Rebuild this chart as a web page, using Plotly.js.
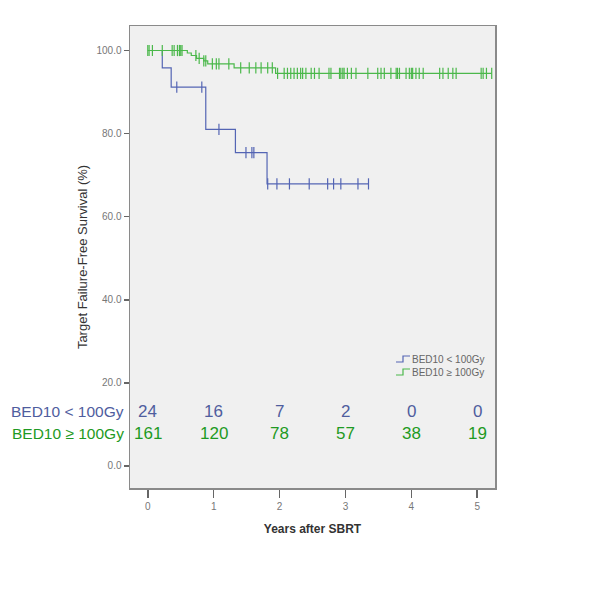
<!DOCTYPE html>
<html>
<head>
<meta charset="utf-8">
<script src="https://cdn.plot.ly/plotly-3.0.1.min.js"></script>
<style>
  html, body { margin: 0; padding: 0; background: #fff; }
  #chart { width: 600px; height: 600px; }
</style>
</head>
<body>
<div id="chart"></div>
<script>
// BED10 < 100Gy
const lowEventTimes = [0.22, 0.355, 0.88, 1.33, 1.81];
const lowEventSurv = [95.8, 91.2, 81.0, 75.4, 67.9];
const lowCensorTimes = [0.44, 0.82, 1.08, 1.49, 1.58, 1.61, 1.82, 1.96, 2.15, 2.45, 2.73, 2.82, 2.93, 3.19, 3.35];
const lowEndTime = 3.35;

// BED10 >= 100Gy
const highEventTimes = [0.6, 0.66, 0.74, 0.85, 0.91, 1.31, 1.94];
const highEventSurv = [99.4, 98.8, 98.1, 97.5, 96.8, 95.8, 94.5];
const highCensorTimes = [0.0, 0.02, 0.07, 0.22, 0.37, 0.40, 0.45, 0.48, 0.50, 0.52, 0.73, 0.78, 0.85, 0.88,
  0.98, 1.04, 1.08, 1.23, 1.41, 1.54, 1.64, 1.72, 1.82, 1.89, 1.97, 2.07, 2.12, 2.17, 2.22, 2.27, 2.32, 2.35,
  2.40, 2.48, 2.53, 2.60, 2.75, 2.78, 2.91, 2.93, 2.96, 2.98, 3.03, 3.09, 3.16, 3.34, 3.49, 3.54, 3.59, 3.69,
  3.77, 3.79, 3.82, 3.92, 3.97, 4.00, 4.02, 4.07, 4.12, 4.18, 4.43, 4.48, 4.56, 4.63, 4.68, 5.06, 5.09, 5.14, 5.22];
const highEndTime = 5.22;

// numbers at risk
const riskTimes = [0, 1, 2, 3, 4, 5];
const lowAtRisk = [24, 16, 7, 2, 0, 0];
const highAtRisk = [161, 120, 78, 57, 38, 19];
const lowLabel = 'BED10 < 100Gy';
const highLabel = 'BED10 \u2265 100Gy';

const blueLine = '#5465b4';
const greenLine = '#4bb84b';
const blueText = '#4f5d9e';
const greenText = '#1e9a23';

// plot box in pixels, for placing the hand-made legend
const box = { l: 130, r: 495, t: 26, b: 488 };
const px = x => (x - box.l) / (box.r - box.l);
const py = y => (box.b - y) / (box.b - box.t);

function survAt(times, surv, t) {
  let s = 100;
  for (let i = 0; i < times.length; i += 1) {
    if (times[i] <= t) s = surv[i];
  }
  return s;
}

function stepTrace(times, surv, endTime, name, color) {
  return {
    x: [0, ...times, endTime],
    y: [100, ...surv, surv[surv.length - 1]],
    type: 'scatter',
    mode: 'lines',
    line: { shape: 'hv', color, width: 1.2 },
    name,
    showlegend: false,
    hoverinfo: 'skip',
  };
}

function censorTrace(censor, times, surv, color) {
  return {
    x: censor,
    y: censor.map(t => survAt(times, surv, t)),
    type: 'scatter',
    mode: 'markers',
    marker: { symbol: 'line-ns-open', size: 8, color, line: { color, width: 1.2 } },
    showlegend: false,
    hoverinfo: 'skip',
  };
}

const data = [
  stepTrace(lowEventTimes, lowEventSurv, lowEndTime, lowLabel, blueLine),
  stepTrace(highEventTimes, highEventSurv, highEndTime, highLabel, greenLine),
  censorTrace(lowCensorTimes, lowEventTimes, lowEventSurv, blueLine),
  censorTrace(highCensorTimes, highEventTimes, highEventSurv, greenLine),
];

const riskFont = "'Liberation Sans', Arial, sans-serif";
const annotations = [];
riskTimes.forEach((t, i) => {
  annotations.push({
    x: t, y: 13.2, xref: 'x', yref: 'y', text: String(lowAtRisk[i]), showarrow: false,
    xanchor: 'center', yanchor: 'middle', font: { family: riskFont, size: 17, color: blueText },
  });
  annotations.push({
    x: t, y: 7.7, xref: 'x', yref: 'y', text: String(highAtRisk[i]), showarrow: false,
    xanchor: 'center', yanchor: 'middle', font: { family: riskFont, size: 17, color: greenText },
  });
});
annotations.push({
  x: px(126), y: 13.2, xref: 'paper', yref: 'y', text: lowLabel, showarrow: false,
  xanchor: 'right', yanchor: 'middle', font: { family: riskFont, size: 15.5, color: blueText },
});
annotations.push({
  x: px(126), y: 7.7, xref: 'paper', yref: 'y', text: highLabel, showarrow: false,
  xanchor: 'right', yanchor: 'middle', font: { family: riskFont, size: 15.5, color: greenText },
});

// legend: small step icon + label
const legendItems = [
  { label: lowLabel, color: blueLine, y: 359 },
  { label: highLabel, color: greenLine, y: 372 },
];
const shapes = [];
legendItems.forEach((item) => {
  annotations.push({
    x: px(410), y: py(item.y), xref: 'paper', yref: 'paper', text: item.label, showarrow: false,
    xanchor: 'left', yanchor: 'middle', font: { size: 10, color: '#666' },
  });
  shapes.push({
    type: 'path', xref: 'paper', yref: 'paper',
    path: `M ${px(396)} ${py(item.y + 3)} L ${px(403)} ${py(item.y + 3)} L ${px(403)} ${py(item.y - 3)} L ${px(410)} ${py(item.y - 3)}`,
    line: { color: item.color, width: 1.2 },
  });
});

const layout = {
  width: 600,
  height: 600,
  margin: { l: box.l, r: 600 - box.r, t: box.t, b: 600 - box.b },
  paper_bgcolor: '#ffffff',
  plot_bgcolor: '#f0f0f0',
  font: { family: "'Liberation Sans', Arial, sans-serif", color: '#555' },
  showlegend: false,
  xaxis: {
    range: [-0.27, 5.27],
    tickvals: riskTimes,
    ticks: 'outside', ticklen: 8, tickcolor: '#666', tickwidth: 1.5,
    tickfont: { size: 10, color: '#777' },
    showgrid: false, zeroline: false,
    showline: true, linecolor: '#8a8a8a', linewidth: 1.5, mirror: true,
    title: { text: '<b>Years after SBRT</b>', font: { size: 12, color: '#333' }, standoff: 14 },
  },
  yaxis: {
    range: [-5.3, 105.9],
    tickvals: [0, 20, 40, 60, 80, 100],
    ticktext: ['0.0', '20.0', '40.0', '60.0', '80.0', '100.0'],
    ticks: 'outside', ticklen: 5, tickcolor: '#666', tickwidth: 1.5,
    tickfont: { size: 10, color: '#777' },
    showgrid: false, zeroline: false,
    showline: true, linecolor: '#8a8a8a', linewidth: 1.5, mirror: true,
    title: { text: 'Target Failure-Free Survival (%)', font: { size: 13, color: '#333' }, standoff: 6 },
  },
  annotations,
  shapes,
};

Plotly.newPlot('chart', data, layout, { displayModeBar: false, staticPlot: true });
</script>
</body>
</html>
